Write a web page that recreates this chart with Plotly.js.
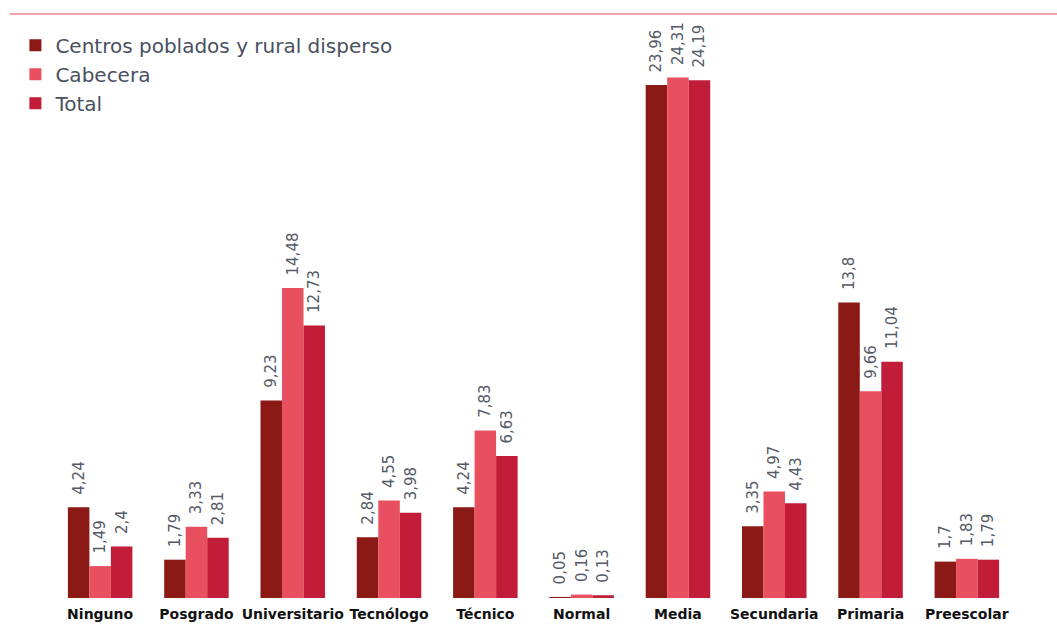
<!DOCTYPE html>
<html>
<head>
<meta charset="utf-8">
<script src="https://cdn.plot.ly/plotly-3.0.1.min.js"></script>
<style>html,body{margin:0;padding:0;background:#fff;}#chart{width:1057px;height:627px;}</style>
</head>
<body>
<div id="chart"></div>
<script>
const categories = ["Ninguno","Posgrado","Universitario","Tecnólogo","Técnico","Normal","Media","Secundaria","Primaria","Preescolar"];
const seriesNames = ["Centros poblados y rural disperso","Cabecera","Total"];
const rural = [4.24,1.79,9.23,2.84,4.24,0.05,23.96,3.35,13.8,1.7];
const cabecera = [1.49,3.33,14.48,4.55,7.83,0.16,24.31,4.97,9.66,1.83];
const total = [2.4,2.81,12.73,3.98,6.63,0.13,24.19,4.43,11.04,1.79];
const colors = ["#8B1915","#E84F5F","#C11D38"];

const fmt = v => '\u00A0\u00A0' + String(v).replace('.', ',');
const allSeries = [rural, cabecera, total];
const traces = allSeries.map((vals, i) => ({
  type: 'bar',
  name: seriesNames[i],
  x: categories,
  y: vals,
  marker: {color: colors[i]},
  text: vals.map(fmt),
  textposition: 'outside',
  textangle: -90,
  constraintext: 'none',
  cliponaxis: false,
  textfont: {family: '"DejaVu Sans", sans-serif', size: 15, color: '#555a66'},
  hoverinfo: 'none'
}));

const layout = {
  width: 1057, height: 627,
  margin: {l: 52, r: 42, t: 20, b: 29},
  paper_bgcolor: '#fff', plot_bgcolor: '#fff',
  barmode: 'group',
  bargap: 0.33, bargroupgap: 0,
  showlegend: true,
  legend: {x: -0.038, y: 0.99, xanchor: 'left', yanchor: 'top',
    font: {family: '"DejaVu Sans", sans-serif', size: 20, color: '#4a5060'},
    itemwidth: 30, tracegroupgap: 0, bgcolor: 'rgba(0,0,0,0)'},
  xaxis: {type: 'category', showgrid: false, zeroline: false, showline: false, ticks: '',
    ticklabelstandoff: 6,
    tickfont: {family: '"DejaVu Sans", sans-serif', size: 14, color: '#111', weight: 'bold'}},
  yaxis: {range: [0, 27.0], visible: false, showgrid: false, zeroline: false},
  shapes: [{type: 'line', xref: 'paper', yref: 'paper', x0: -0.044, x1: 1.05, y0: 1.0104, y1: 1.0104,
    line: {color: '#F3A3AA', width: 2}}]
};

Plotly.newPlot('chart', traces, layout, {displayModeBar: false, staticPlot: true});
</script>
</body>
</html>
